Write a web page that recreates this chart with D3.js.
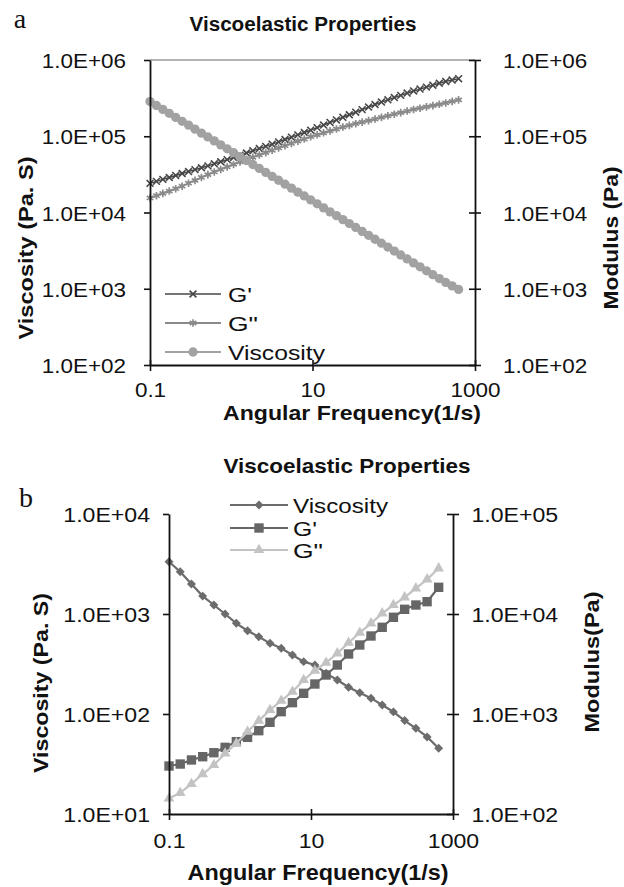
<!DOCTYPE html>
<html>
<head>
<meta charset="utf-8">
<script src="https://cdn.jsdelivr.net/npm/d3@7"></script>
<style>
body { margin: 0; background: #fff; }
svg { display: block; }
text { font-family: "Liberation Sans", Arial, sans-serif; fill: #111; }
</style>
</head>
<body>
<svg width="624" height="887"></svg>
<script>
// panel a : frequency sweep (1/s) and values
var freqA = [0.1, 0.12, 0.1439, 0.1727, 0.2072, 0.2486, 0.2983, 0.3579, 0.4295, 0.5153,
  0.6183, 0.7419, 0.8902, 1.068, 1.282, 1.538, 1.845, 2.214, 2.657, 3.188,
  3.825, 4.589, 5.506, 6.606, 7.925, 9.509, 11.41, 13.69, 16.43, 19.71,
  23.65, 28.38, 34.04, 40.85, 49.01, 58.81, 70.56, 84.66, 101.6, 121.9,
  146.2, 175.5, 210.6, 252.6, 303.1, 363.7, 436.4, 523.6, 628.3];
var gPrimeA = [24100, 25600, 27200, 28800, 30600, 32500, 34400, 36500, 38600, 40900,
  43500, 46300, 49400, 52700, 56400, 60300, 64400, 68900, 73600, 78700,
  84300, 90600, 97300, 104300, 112000, 120200, 129800, 140300, 151700, 163700,
  177000, 191400, 207000, 223400, 241500, 260600, 280500, 300600, 321400, 343600,
  368100, 392600, 415900, 440600, 467700, 495500, 523600, 545800, 568900];
var gDoubleA = [15500, 16600, 17800, 19100, 20500, 22100, 24200, 26400, 28800, 31400,
  34000, 36700, 39600, 42700, 46000, 49400, 53000, 56900, 61000, 65500,
  70200, 75100, 80400, 86100, 92000, 98600, 104500, 110900, 117500, 124500,
  132100, 139000, 145900, 153100, 160300, 168300, 176600, 185400, 194500, 204200,
  214300, 224400, 233300, 242700, 252400, 262400, 273500, 286400, 299900];
var viscA = [285000, 253000, 225000, 200000, 177000, 157000, 140000, 124000, 110000, 98000,
  86900, 77100, 68500, 60800, 54000, 48000, 42600, 37800, 33600, 29800,
  26500, 23500, 20900, 18500, 16500, 14600, 13000, 11500, 10200, 9100,
  8070, 7160, 6370, 5650, 5020, 4460, 3960, 3520, 3120, 2770,
  2460, 2180, 1940, 1720, 1530, 1360, 1210, 1090, 980];

// panel b
var freqB = [0.1, 0.1439, 0.2071, 0.298, 0.4288, 0.617, 0.8879, 1.278, 1.839, 2.646,
  3.807, 5.478, 7.883, 11.34, 16.32, 23.49, 33.8, 48.64, 69.99, 100.7,
  144.9, 208.5, 300, 431.7, 628.3];
var viscB = [3330, 2650, 1995, 1510, 1230, 1000, 807, 681, 593, 509,
  454, 389, 334, 309, 255, 219, 185, 163, 144, 123,
  105, 86, 72, 59, 45.4];
var gPrimeB = [302, 316, 347, 374, 410, 464, 529, 584, 681, 826,
  1055, 1298, 1610, 1995, 2455, 3090, 3981, 4898, 6026, 7362,
  9268, 11140, 12300, 13280, 18490];
var gDoubleB = [143, 163, 200, 251, 309, 404, 509, 666, 858, 1096,
  1359, 1672, 2188, 2712, 3262, 4045, 5166, 6506, 8070, 10160,
  12300, 14690, 18060, 22230, 28640];

var xTicks = [0.1, 10, 1000];
var yTicksA = [1e2, 1e3, 1e4, 1e5, 1e6];
var yTicksBL = [1e1, 1e2, 1e3, 1e4];
var yTicksBR = [1e2, 1e3, 1e4, 1e5];

var svg = d3.select("svg");

function sci(d) {
  var e = Math.round(Math.log10(d));
  return "1.0E+" + (e < 10 ? "0" : "") + e;
}

var symTimes = d3.symbolTimes || d3.symbolX;
var symAst = d3.symbolAsterisk || d3.symbolCross;

// text with a fixed drawn length (the source font is wider than Arial)
function label(x, y, str, size, bold, len, rot, anchor) {
  var t = svg.append("text")
    .attr("transform", "translate(" + x + "," + y + ")" + (rot ? " rotate(-90)" : ""))
    .attr("text-anchor", anchor || "middle")
    .attr("font-size", size)
    .attr("font-weight", bold ? "bold" : "normal")
    .text(str);
  if (len) t.attr("textLength", len).attr("lengthAdjust", "spacingAndGlyphs");
  return t;
}

function tickText(ax, dx, dy, sx, anchor) {
  ax.selectAll(".tick text")
    .attr("x", 0).attr("y", 0).attr("dy", null)
    .attr("font-size", 21)
    .attr("font-family", "Liberation Sans, Arial, sans-serif")
    .attr("fill", "#111")
    .attr("text-anchor", anchor)
    .attr("transform", "translate(" + dx + "," + dy + ") scale(" + sx + ",1)");
}

function styleAxis(ax) {
  ax.select(".domain").attr("stroke", "#111").attr("stroke-width", 1.8);
  ax.selectAll(".tick line").attr("stroke", "#111").attr("stroke-width", 1.6);
}

function axes(x, yl, yr, tl, tr, p) {
  var x0 = x.range()[0], x1 = x.range()[1];
  var yb = yl.range()[0];
  var gl = svg.append("g").attr("transform", "translate(" + x0 + ",0)")
    .call(d3.axisLeft(yl).tickValues(tl).tickFormat(sci).tickSize(6).tickSizeOuter(0));
  styleAxis(gl);
  tickText(gl, -p.left, 7.5, p.sx, "end");

  var gr = svg.append("g").attr("transform", "translate(" + x1 + ",0)")
    .call(d3.axisRight(yr).tickValues(tr).tickFormat(sci).tickSize(6).tickSizeOuter(0));
  styleAxis(gr);
  gr.selectAll(".tick line").attr("x1", -6);
  tickText(gr, p.right, 7.5, p.sx, "start");

  var gb = svg.append("g").attr("transform", "translate(0," + yb + ")")
    .call(d3.axisBottom(x).tickValues(xTicks).tickFormat(d3.format("~g")).tickSize(6).tickSizeOuter(0));
  styleAxis(gb);
  gb.selectAll(".tick line").attr("y1", -5);
  tickText(gb, 0, p.bottom, p.sx, "middle");
}

function drawMarks(g, pts, s) {
  var strokeSym = (s.sym === symTimes || s.sym === symAst);
  g.selectAll(null).data(pts).enter().append("path")
    .attr("transform", function (d) {
      return "translate(" + d[0] + "," + d[1] + ")" + (s.rot ? " rotate(45)" : "");
    })
    .attr("d", d3.symbol(s.sym, s.size))
    .attr("fill", strokeSym ? "none" : s.color)
    .attr("stroke", strokeSym ? s.color : "none")
    .attr("stroke-width", strokeSym ? s.mw : 0);
}

function series(xs, ys, x, y, s) {
  var pts = xs.map(function (f, i) { return [x(f), y(ys[i])]; });
  var g = svg.append("g");
  g.append("path").attr("d", d3.line()(pts))
    .attr("fill", "none").attr("stroke", s.color).attr("stroke-width", s.lw);
  drawMarks(g, pts, s);
}

function legend(items, x0, x1, rows, tx, lens) {
  items.forEach(function (s, i) {
    var g = svg.append("g");
    g.append("line").attr("x1", x0).attr("x2", x1).attr("y1", rows[i]).attr("y2", rows[i])
      .attr("stroke", s.color).attr("stroke-width", Math.min(s.lw, 2));
    drawMarks(g, [[(x0 + x1) / 2, rows[i]]], s);
    label(tx, rows[i] + 8, s.name, 21, false, lens[i], false, "start");
  });
}

// ---------- panel a ----------
var xA = d3.scaleLog().domain([0.1, 1000]).range([150, 475]);
var yA = d3.scaleLog().domain([100, 1e6]).range([365, 60]);

svg.append("line").attr("x1", 150).attr("x2", 475).attr("y1", yA(1e6)).attr("y2", yA(1e6))
  .attr("stroke", "#9a9a9a").attr("stroke-width", 1.6);

var stGpA = { name: "G'", color: "#474747", lw: 1.4, sym: symTimes, size: 32, mw: 1.6 };
var stGdA = { name: "G\"", color: "#8a8a8a", lw: 1.8, sym: symAst, size: 40, mw: 1.7 };
var stVA = { name: "Viscosity", color: "#a2a2a2", lw: 3, sym: d3.symbolCircle, size: 68 };

series(freqA, gPrimeA, xA, yA, stGpA);
series(freqA, gDoubleA, xA, yA, stGdA);
series(freqA, viscA, xA, yA, stVA);

axes(xA, yA, yA, yTicksA, yTicksA, { left: 24, right: 28, bottom: 32, sx: 1.07 });
legend([stGpA, stGdA, stVA], 165, 221, [294, 323, 352], 228, [24, 30, 97]);

label(20, 28, "a", 28, false, null, false, "middle").style("font-family", "Liberation Serif, serif");
label(303, 31, "Viscoelastic Properties", 19.5, true, 227);
label(352, 420, "Angular Frequency(1/s)", 21, true, 258);
label(33, 248, "Viscosity (Pa. S)", 21, true, 183, true);
label(618, 238, "Modulus (Pa)", 21, true, 143, true);

// ---------- panel b ----------
var xB = d3.scaleLog().domain([0.1, 1000]).range([169, 453]);
var yBL = d3.scaleLog().domain([10, 1e4]).range([814, 514]);
var yBR = d3.scaleLog().domain([100, 1e5]).range([814, 514]);

var stVB = { name: "Viscosity", color: "#6c6c6c", lw: 2.2, sym: d3.symbolSquare, size: 40, rot: true };
var stGpB = { name: "G'", color: "#666666", lw: 2.2, sym: d3.symbolSquare, size: 88 };
var stGdB = { name: "G\"", color: "#c3c3c3", lw: 2.2, sym: d3.symbolTriangle, size: 50 };

series(freqB, viscB, xB, yBL, stVB);
series(freqB, gPrimeB, xB, yBR, stGpB);
series(freqB, gDoubleB, xB, yBR, stGdB);

axes(xB, yBL, yBR, yTicksBL, yTicksBR, { left: 19, right: 18.5, bottom: 34, sx: 1.1 });
legend([stVB, stGpB, stGdB], 230, 288, [505, 528, 550], 293, [95, 24, 30]);

label(26, 507, "b", 28, false, null, false, "middle").style("font-family", "Liberation Serif, serif");
label(347, 473, "Viscoelastic Properties", 21, true, 247);
label(318, 880, "Angular Frequency(1/s)", 22, true, 261);
label(48, 683, "Viscosity (Pa. S)", 21, true, 180, true);
label(599, 662, "Modulus(Pa)", 21, true, 141, true);
</script>
</body>
</html>
